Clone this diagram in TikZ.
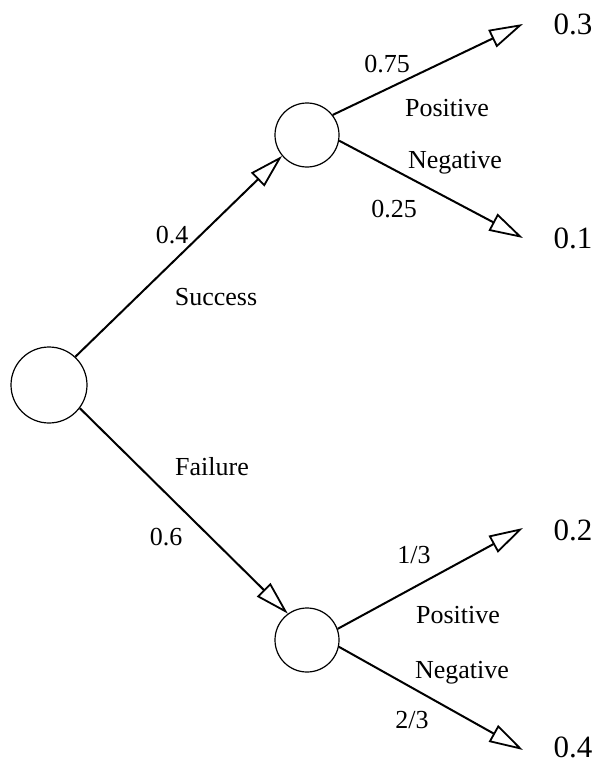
\documentclass[tikz,border=0pt]{standalone}
\usepackage{fontspec}
\setmainfont{Liberation Serif}
\usetikzlibrary{arrows.meta}
\tikzset{
  chance/.style={circle, draw, line width=1.2pt, inner sep=0pt},
  edge/.style={line width=2pt, -{Triangle[open, length=34pt, width=19pt, line width=1.8pt]}},
  lbl/.style={anchor=base, inner sep=0pt, font=\fontsize{26}{30}\selectfont},
  val/.style={anchor=base, inner sep=0pt, font=\fontsize{31}{36}\selectfont},
}
\begin{document}
\begin{tikzpicture}[x=1pt, y=-1pt]
\useasboundingbox (0,0) rectangle (600,765);
% chance nodes
\node[chance, minimum size=76pt] (root) at (49,385) {};
\node[chance, minimum size=64pt] (top) at (307,135) {};
\node[chance, minimum size=64pt] (bot) at (307,640) {};
% arrow tips
\coordinate (t1) at (523,24);
\coordinate (t2) at (523,238);
\coordinate (b1) at (523,528);
\coordinate (b2) at (523,750);
% edges
\draw[edge] (root.47) -- (top.220);
\draw[edge] (root.-37) -- (bot.126);
\draw[edge] (top.38) -- (t1);
\draw[edge] (top.-10) -- (t2);
\draw[edge] (bot.20) -- (b1);
\draw[edge] (bot.-12) -- (b2);
% values
\node[val] (v1) at (573,35) {0.3};
\node[val] (v2) at (573,248) {0.1};
\node[val] (v3) at (573,540) {0.2};
\node[val] (v4) at (573,757) {0.4};
% labels
\node[lbl] (p04) at (172,243) {0.4};
\node[lbl] (succ) at (216,305) {Success};
\node[lbl] (fail) at (212,475) {Failure};
\node[lbl] (p06) at (166,545) {0.6};
\node[lbl] (p075) at (387,73) {0.75};
\node[lbl] (pos1) at (447,117) {Positive};
\node[lbl] (neg1) at (455,168) {Negative};
\node[lbl] (p025) at (394,217) {0.25};
\node[lbl] (p13) at (414,563) {1/3};
\node[lbl] (pos2) at (458,623) {Positive};
\node[lbl] (neg2) at (462,678) {Negative};
\node[lbl] (p23) at (412,728) {2/3};
\end{tikzpicture}
\end{document}
